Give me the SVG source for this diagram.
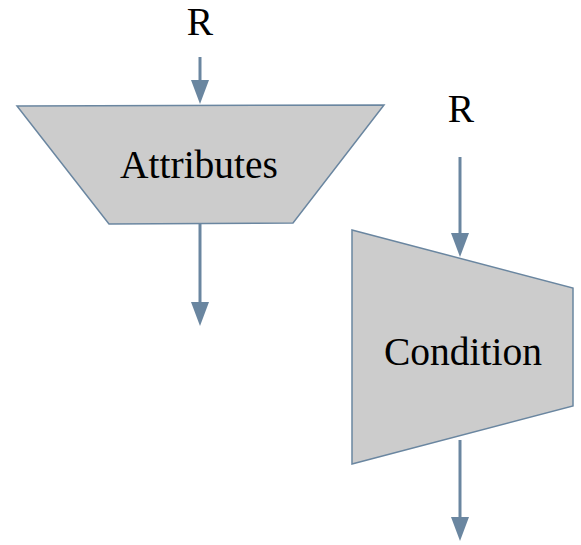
<svg xmlns="http://www.w3.org/2000/svg" width="581" height="545" viewBox="0 0 581 545">
<style>
.shape{fill:#cccccc;stroke:#6a86a0;stroke-width:1.5;stroke-linejoin:miter}
.edge{stroke:#6a86a0;stroke-width:3;fill:none}
.head{fill:#6a86a0}
text{font-family:"Liberation Serif","DejaVu Serif",serif;font-size:39.5px;fill:#000;text-anchor:middle}
</style>
<rect width="581" height="545" fill="#fff"/>
<g id="label-r1"><text x="200" y="35">R</text></g>
<g id="label-r2"><text x="461" y="122">R</text></g>
<g id="attributes">
<polygon class="shape" points="17,106 384,105 293,223 109,224"/>
<text x="199" y="178">Attributes</text>
</g>
<g id="condition">
<polygon class="shape" points="352,230 573,288 573,406 352,464"/>
<text x="463" y="365">Condition</text>
</g>
<g id="connectors">
<line class="edge" x1="200" y1="57" x2="200" y2="82"/>
<polygon class="head" points="191,80 209,80 200,104"/>
<line class="edge" x1="200" y1="224" x2="200" y2="304"/>
<polygon class="head" points="191,302 209,302 200,326"/>
<line class="edge" x1="460" y1="157" x2="460" y2="235"/>
<polygon class="head" points="451,233 469,233 460,257"/>
<line class="edge" x1="460" y1="440" x2="460" y2="519"/>
<polygon class="head" points="451,517 469,517 460,541"/>
</g>
</svg>
